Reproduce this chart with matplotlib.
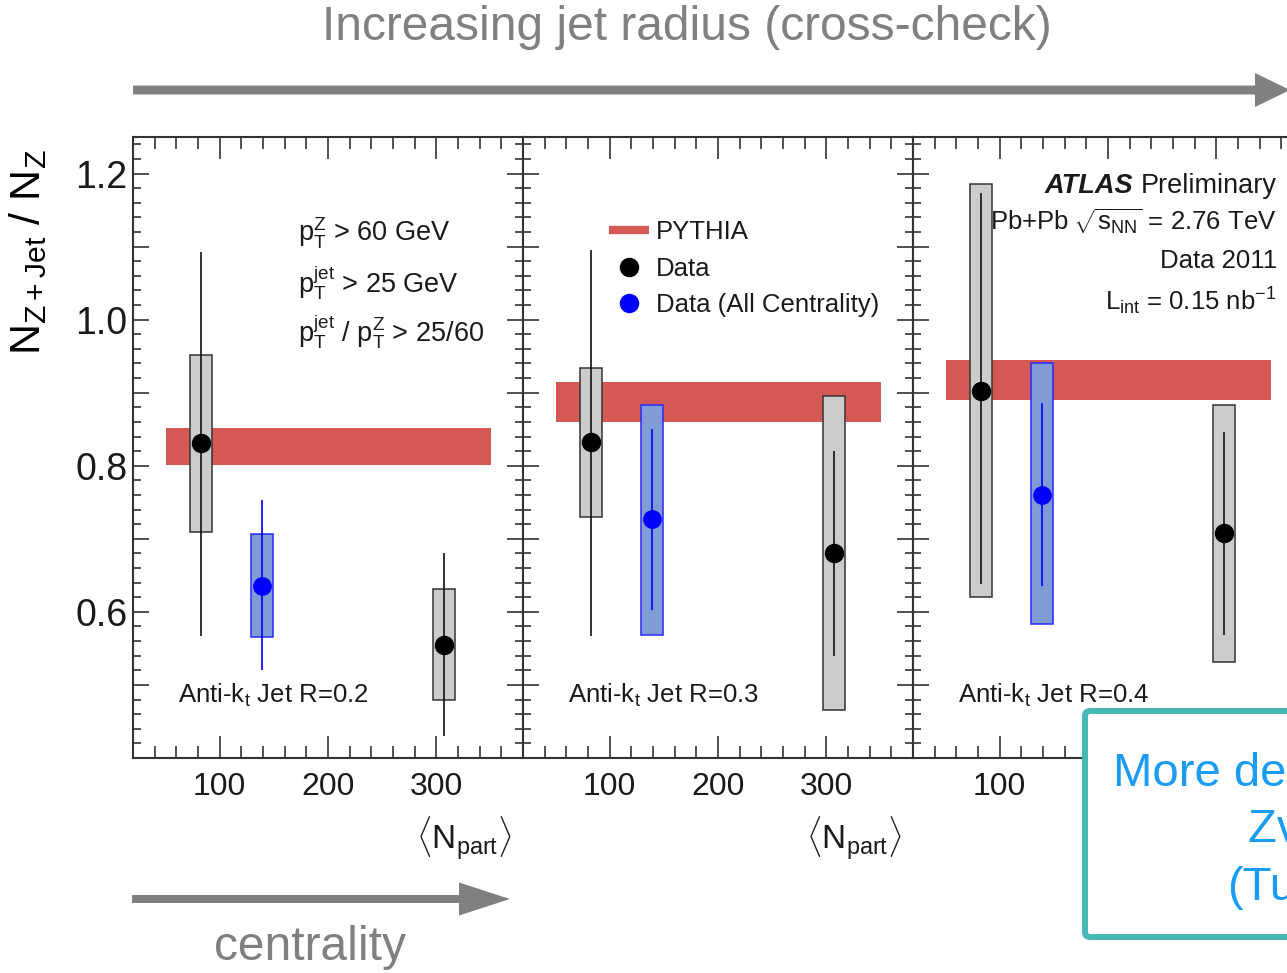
import matplotlib
matplotlib.use("Agg")
from matplotlib import pyplot as plt
from matplotlib import transforms
from matplotlib.lines import Line2D
from matplotlib.patches import FancyArrow, FancyBboxPatch
from matplotlib.ticker import MultipleLocator, FixedLocator, FuncFormatter

plt.rcParams['font.family'] = ['Liberation Sans', 'DejaVu Sans']
plt.rcParams['mathtext.fontset'] = 'custom'
plt.rcParams['mathtext.rm'] = 'Liberation Sans'
plt.rcParams['mathtext.it'] = 'Liberation Sans:italic'
plt.rcParams['mathtext.bf'] = 'Liberation Sans:bold'

# <N_part> of the two centrality bins and of the all-centrality point
npart = [83, 307]
npart_all = 139

radius = ["0.2", "0.3", "0.4"]

# data (black), stat error bars and syst boxes, per jet radius
data_y = [[0.831, 0.555], [0.833, 0.680], [0.903, 0.708]]
data_stat_lo = [[0.567, 0.430], [0.567, 0.540], [0.638, 0.569]]
data_stat_hi = [[1.092, 0.680], [1.095, 0.820], [1.174, 0.846]]
data_sys_lo = [[0.710, 0.480], [0.730, 0.466], [0.620, 0.532]]
data_sys_hi = [[0.952, 0.632], [0.934, 0.896], [1.185, 0.883]]

# data, all centrality (blue)
all_y = [0.636, 0.727, 0.760]
all_stat_lo = [0.520, 0.602, 0.635]
all_stat_hi = [0.753, 0.850, 0.886]
all_sys_lo = [0.565, 0.569, 0.584]
all_sys_hi = [0.706, 0.883, 0.941]

# PYTHIA band
pythia_x = [50, 350]
pythia_lo = [0.801, 0.860, 0.890]
pythia_hi = [0.852, 0.915, 0.945]

box_w = 20

red = '#d45854'
gray_txt = '#808080'
ink = '#1a1a1a'

fig = plt.figure(figsize=(12.87, 9.73), dpi=100)
W, H = 1287.0, 973.0

axes = []
for i in range(3):
    left = (133 + 390 * i) / W
    ax = fig.add_axes([left, (H - 758) / H, 390 / W, 621 / H])
    axes.append(ax)

for i, ax in enumerate(axes):
    ax.fill_between(pythia_x, pythia_lo[i], pythia_hi[i], color=red, lw=0, zorder=1)

    # systematic boxes
    ax.bar(npart, [h - l for h, l in zip(data_sys_hi[i], data_sys_lo[i])],
           bottom=data_sys_lo[i], width=box_w, color='#cccccc',
           edgecolor='#333333', lw=1.1, zorder=2)
    ax.bar([npart_all], [all_sys_hi[i] - all_sys_lo[i]], bottom=[all_sys_lo[i]],
           width=box_w, color='#7f9cd6', edgecolor='#2a2aff', lw=1.1, zorder=2)

    # stat errors
    ax.vlines(npart, data_stat_lo[i], data_stat_hi[i], color='#111111', lw=1.2, zorder=3)
    ax.vlines([npart_all], [all_stat_lo[i]], [all_stat_hi[i]], color='#0000ff', lw=1.2, zorder=3)

    ax.plot(npart, data_y[i], 'o', color='black', ms=13, zorder=4)
    ax.plot([npart_all], [all_y[i]], 'o', color='#0000ff', ms=12.5, zorder=4)

    ax.set_xlim(20, 380)
    ax.set_ylim(0.4, 1.25)
    ax.xaxis.set_major_locator(MultipleLocator(100))
    ax.xaxis.set_minor_locator(MultipleLocator(20))
    ax.yaxis.set_major_locator(FixedLocator([0.5, 0.6, 0.7, 0.8, 0.9, 1.0, 1.1, 1.2]))
    ax.yaxis.set_minor_locator(MultipleLocator(0.02))
    ax.tick_params(which='both', direction='in', top=True, right=True,
                   width=1.1, color='#222222')
    ax.tick_params(axis='x', which='major', length=16, labelsize=23, pad=10,
                   labelcolor=ink)
    ax.tick_params(axis='x', which='minor', length=8.6)
    ax.tick_params(axis='y', which='major', length=11.5, labelsize=27, pad=4,
                   labelcolor=ink)
    ax.tick_params(axis='y', which='minor', length=5.8)
    if i == 0:
        ax.yaxis.set_major_formatter(FuncFormatter(
            lambda v, p: f"{v:.1f}" if round(v * 10) % 2 == 0 else ""))
    else:
        ax.tick_params(axis='y', labelleft=False)
    for s in ax.spines.values():
        s.set_linewidth(1.5)
        s.set_color('#333333')

    ax.text(0.115, 0.089, r'Anti-$\mathrm{k_t}$ Jet R=' + radius[i],
            transform=ax.transAxes, fontsize=18.5, color=ink, va='baseline')

    if i < 2:
        ax.set_xlabel(r'$\langle\mathrm{N_{part}}\rangle$', fontsize=24, color=ink,
                      loc='right')
        ax.xaxis.set_label_coords(0.97, -0.092)

# cuts text
ax = axes[0]
ax.text(0.423, 0.831, r'$\mathrm{p_T^Z}$ > 60 GeV', transform=ax.transAxes,
        fontsize=19.5, color=ink, va='baseline')
ax.text(0.423, 0.750, r'$\mathrm{p_T^{jet}}$ > 25 GeV', transform=ax.transAxes,
        fontsize=19.5, color=ink, va='baseline')
ax.text(0.423, 0.670, r'$\mathrm{p_T^{jet}}$ / $\mathrm{p_T^Z}$ > 25/60',
        transform=ax.transAxes, fontsize=19.5, color=ink, va='baseline')

# legend
handles = [Line2D([], [], color=red, lw=6, solid_capstyle='butt'),
           Line2D([], [], marker='o', ls='none', color='black', ms=13),
           Line2D([], [], marker='o', ls='none', color='#0000ff', ms=13)]
axes[1].legend(handles, ['PYTHIA', 'Data', 'Data (All Centrality)'],
               loc='upper left', bbox_to_anchor=(0.22, 0.866), frameon=False,
               fontsize=18.5, handlelength=1.55, handletextpad=0.3,
               labelspacing=0.48, borderpad=0, borderaxespad=0, labelcolor=ink)

# ATLAS label
ax = axes[2]
renderer = fig.canvas.get_renderer()
t = ax.text(0.933, 0.910, 'Preliminary', transform=ax.transAxes, ha='right',
            va='baseline', fontsize=19.5, color=ink)
w = t.get_window_extent(renderer).width
ax.text(0.933, 0.910, 'ATLAS', ha='right', va='baseline', fontsize=19.5,
        fontweight='bold', fontstyle='italic', color=ink,
        transform=transforms.offset_copy(ax.transAxes, fig=fig, x=-(w + 8),
                                         y=0, units='dots'))
ax.text(0.933, 0.850, r'Pb+Pb$\;\sqrt{\mathrm{s_{NN}}}$ = 2.76 TeV',
        transform=ax.transAxes, ha='right', va='baseline', fontsize=18.5, color=ink)
ax.text(0.933, 0.789, 'Data 2011', transform=ax.transAxes, ha='right',
        va='baseline', fontsize=18.5, color=ink)
ax.text(0.933, 0.721, r'$\mathrm{L_{int}}$ = 0.15 nb$^{\mathrm{-1}}$',
        transform=ax.transAxes, ha='right', va='baseline', fontsize=18.5, color=ink)

# y label
fig.text(28 / W, 1 - 252 / H, r'$\mathrm{N_{Z+Jet}}$ / $\mathrm{N_Z}$',
         rotation=90, ha='center', va='center', fontsize=31, color='black')

# slide decorations
fig.text(687 / W, 1 - 40 / H, 'Increasing jet radius (cross-check)', ha='center',
         va='baseline', fontsize=34.5, color=gray_txt)
fig.text(310 / W, 1 - 960 / H, 'centrality', ha='center', va='baseline',
         fontsize=34.5, color=gray_txt)

fig.add_artist(FancyArrow(1.33, (H - 90) / 100, 12.90 - 1.33, 0, width=0.09,
                          head_width=0.34, head_length=0.35,
                          length_includes_head=True, color=gray_txt, lw=0,
                          transform=fig.dpi_scale_trans))
fig.add_artist(FancyArrow(1.32, (H - 899) / 100, 5.10 - 1.32, 0, width=0.08,
                          head_width=0.33, head_length=0.51,
                          length_includes_head=True, color=gray_txt, lw=0,
                          transform=fig.dpi_scale_trans))

box = FancyBboxPatch((10.85, (H - 937) / 100), 4.0, (937 - 711) / 100,
                     boxstyle='round,pad=0,rounding_size=0.05', lw=4.3,
                     edgecolor='#46b8b5', facecolor='white', zorder=5,
                     transform=fig.dpi_scale_trans)
fig.add_artist(box)

blue_txt = '#1a9cf5'
fig.text(1113 / W, 1 - 786 / H, 'More details in the talk by', fontsize=34,
         color=blue_txt, va='baseline', zorder=6)
fig.text(1248 / W, 1 - 842 / H, 'Zvi Citron', fontsize=34,
         color=blue_txt, va='baseline', zorder=6)
fig.text(1227 / W, 1 - 900 / H, '(Tuesday)', fontsize=34,
         color=blue_txt, va='baseline', zorder=6)

fig.savefig('out.png', dpi=100)
